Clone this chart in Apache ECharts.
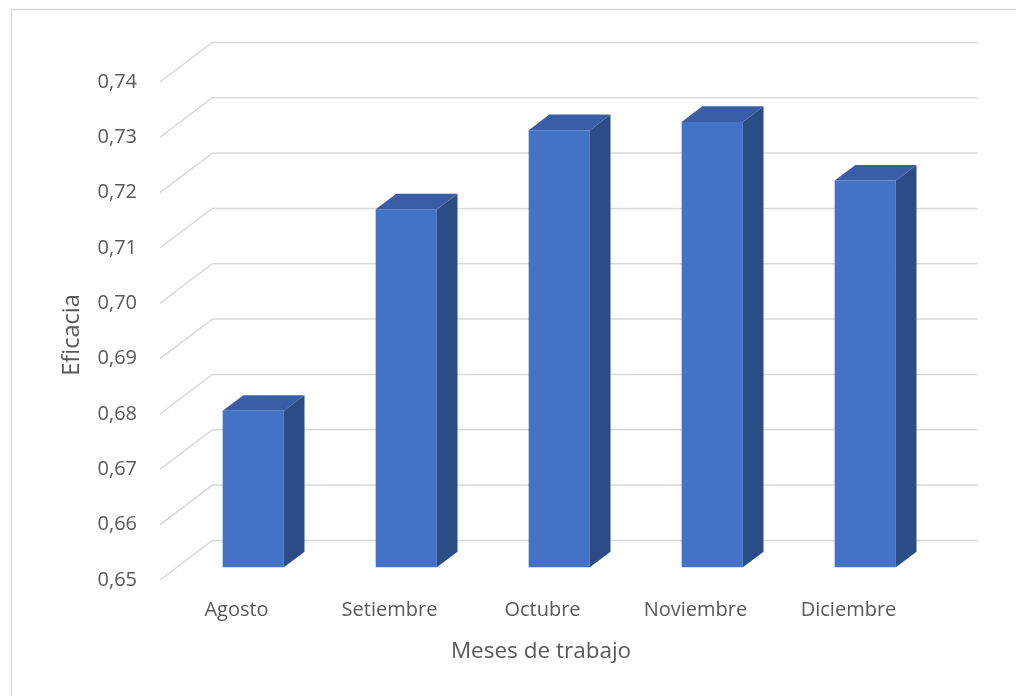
<!DOCTYPE html>
<html>
<head>
<meta charset="utf-8">
<script src="https://cdn.jsdelivr.net/npm/echarts@6/dist/echarts.min.js"></script>
<style>
  html, body { margin: 0; padding: 0; background: #ffffff; }
  #chart { width: 1016px; height: 696px; }
</style>
</head>
<body>
<div id="chart"></div>
<script>
// Monthly efficacy values
const categories = ['Agosto', 'Setiembre', 'Octubre', 'Noviembre', 'Diciembre'];
const eficacia = [0.6783, 0.7147, 0.7290, 0.7305, 0.7199];
const yTicks = [0.65, 0.66, 0.67, 0.68, 0.69, 0.70, 0.71, 0.72, 0.73, 0.74];
const yMin = 0.65, yMax = 0.74, yStep = 0.01;

// Oblique depth vector from the front plane to the back wall (px)
const DEPTH_X = 52.4, DEPTH_Y = -39.6;
const BAR_FRONT = 0.32;   // bar front face position along the depth
const BAR_DEPTH = 0.394;  // bar thickness along the depth

const FONT = '"Open Sans", "Noto Sans", sans-serif';
const TEXT_COLOR = '#595959';

const chart = echarts.init(document.getElementById('chart'), null, { renderer: 'canvas' });

function renderGridLine(params, api) {
  const cs = params.coordSys;
  const y = api.coord([0, api.value(1)])[1];
  const left = cs.x, right = cs.x + cs.width;
  return {
    type: 'polyline',
    shape: { points: [[left, y], [left + DEPTH_X, y + DEPTH_Y], [right + DEPTH_X, y + DEPTH_Y]] },
    style: { stroke: '#D9D9D9', lineWidth: 1.5, fill: null }
  };
}

function renderBar(params, api) {
  const idx = api.value(0);
  const v = api.value(1);
  const top = api.coord([idx, v]);
  const base = api.coord([idx, yMin]);
  const w = api.size([1, 0])[0] * 0.4;
  const x0 = top[0] + DEPTH_X * BAR_FRONT - w / 2;
  const x1 = x0 + w;
  const yT = top[1] + DEPTH_Y * BAR_FRONT;
  const yB = base[1] + DEPTH_Y * BAR_FRONT;
  const ox = DEPTH_X * BAR_DEPTH, oy = DEPTH_Y * BAR_DEPTH;
  return {
    type: 'group',
    children: [
      { type: 'polygon', shape: { points: [[x1, yT], [x1 + ox, yT + oy], [x1 + ox, yB + oy], [x1, yB]] },
        style: { fill: '#2C4C86' } },
      { type: 'polygon', shape: { points: [[x0, yT], [x0 + ox, yT + oy], [x1 + ox, yT + oy], [x1, yT]] },
        style: { fill: '#3A5EA5' } },
      { type: 'rect', shape: { x: x0, y: yT, width: w, height: yB - yT },
        style: { fill: '#4472C4' } }
    ]
  };
}

chart.setOption({
  animation: false,
  backgroundColor: '#ffffff',
  grid: { left: 160, right: 91, top: 82, bottom: 116, containLabel: false },
  xAxis: {
    type: 'category',
    data: categories,
    axisLine: { show: false },
    axisTick: { show: false },
    axisLabel: { color: TEXT_COLOR, fontFamily: FONT, fontSize: 20, margin: 20 }
  },
  yAxis: {
    type: 'value',
    min: yMin, max: yMax, interval: yStep,
    axisLine: { show: false },
    axisTick: { show: false },
    splitLine: { show: false },
    axisLabel: {
      color: TEXT_COLOR, fontFamily: FONT, fontSize: 20, margin: 23,
      formatter: v => v.toFixed(2).replace('.', ',')
    }
  },
  graphic: [
    { type: 'rect', left: 9, top: 7, z: -10, silent: true,
      shape: { width: 1030, height: 720 },
      style: { fill: null, stroke: '#D9D9D9', lineWidth: 1.5 } },
    { type: 'text', x: 541, y: 652, silent: true,
      style: { text: 'Meses de trabajo', fill: TEXT_COLOR, font: '22.5px ' + FONT, align: 'center', verticalAlign: 'middle' } },
    { type: 'text', x: 72, y: 335, rotation: Math.PI / 2, silent: true,
      style: { text: 'Eficacia', fill: TEXT_COLOR, font: '23.5px ' + FONT, align: 'center', verticalAlign: 'middle' } }
  ],
  series: [
    {
      type: 'custom',
      name: 'grid',
      clip: false,
      silent: true,
      z: 1,
      renderItem: renderGridLine,
      data: yTicks.map(t => [0, t])
    },
    {
      type: 'custom',
      name: 'Eficacia',
      clip: false,
      z: 2,
      renderItem: renderBar,
      data: eficacia.map((v, i) => [i, v])
    }
  ]
});
</script>
</body>
</html>
